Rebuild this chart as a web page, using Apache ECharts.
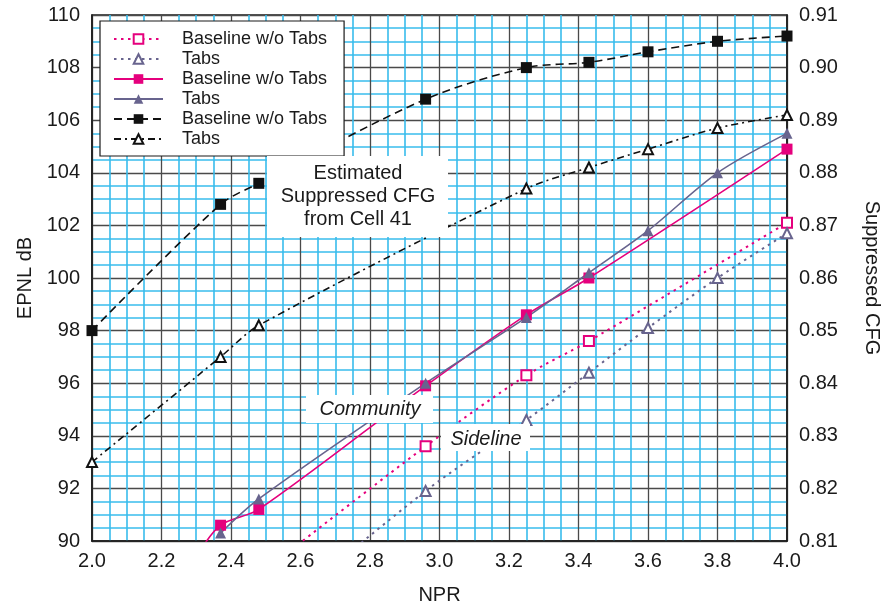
<!DOCTYPE html>
<html>
<head>
<meta charset="utf-8">
<script src="https://cdn.jsdelivr.net/npm/echarts@6/dist/echarts.min.js"></script>
<style>
  html, body { margin: 0; padding: 0; background: #fff; }
  #chart { width: 885px; height: 606px; }
</style>
</head>
<body>
<div id="chart"></div>
<script>
// Axis ranges: [min, max, step]
const nprRange = [2.0, 4.0, 0.2];
const epnlRange = [90, 110, 2];
const cfgRange = [0.81, 0.91, 0.01];

// Sideline EPNL (dB)
const nprSidelineBase = [2.48, 2.96, 3.25, 3.43, 4.00];
const epnlSidelineBase = [88.7, 93.6, 96.3, 97.6, 102.1];
const nprSidelineTabs = [2.48, 2.96, 3.25, 3.43, 3.60, 3.80, 4.00];
const epnlSidelineTabs = [86.7, 91.9, 94.6, 96.4, 98.1, 100.0, 101.7];

// Community EPNL (dB)
const nprCommunityBase = [2.30, 2.37, 2.48, 2.96, 3.25, 3.43, 4.00];
const epnlCommunityBase = [89.4, 90.6, 91.2, 95.9, 98.6, 100.0, 104.9];
const nprCommunityTabs = [2.37, 2.48, 2.96, 3.25, 3.43, 3.60, 3.80, 4.00];
const epnlCommunityTabs = [90.3, 91.6, 96.0, 98.5, 100.2, 101.8, 104.0, 105.5];

// Estimated suppressed CFG from Cell 41
const nprCfgBase = [2.00, 2.37, 2.48, 2.96, 3.25, 3.43, 3.60, 3.80, 4.00];
const cfgBase = [0.850, 0.874, 0.878, 0.894, 0.900, 0.901, 0.903, 0.905, 0.906];
const nprCfgTabs = [2.00, 2.37, 2.48, 3.25, 3.43, 3.60, 3.80, 4.00];
const cfgTabs = [0.825, 0.845, 0.851, 0.877, 0.881, 0.8845, 0.8885, 0.891];

const PINK = '#e5007d';
const SLATE = '#68648e';
const INK = '#111111';
const FONT = '"Liberation Sans", Arial, Helvetica, sans-serif';

const zip = (xs, ys) => xs.map((x, i) => [x, ys[i]]);

function lineSeries(name, xs, ys, opts) {
  return Object.assign({
    name: name,
    type: 'line',
    data: zip(xs, ys),
    smooth: 0.3,
    clip: true,
    symbolKeepAspect: true,
    emphasis: { disabled: true }
  }, opts);
}

const chart = echarts.init(document.getElementById('chart'), null, { renderer: 'canvas' });

chart.setOption({
  animation: false,
  textStyle: { fontFamily: FONT },
  grid: {
    left: 92, right: 98, top: 15, bottom: 65,
    containLabel: false,
    outerBoundsMode: 'none',
    show: true, borderColor: '#1a1a1a', borderWidth: 1.5, backgroundColor: 'transparent'
  },
  xAxis: {
    type: 'value',
    min: nprRange[0], max: nprRange[1], interval: nprRange[2],
    name: 'NPR', nameLocation: 'middle', nameGap: 44,
    nameTextStyle: { fontSize: 20, color: '#1a1a1a', fontFamily: FONT },
    axisLine: { show: true, lineStyle: { color: '#1a1a1a', width: 1.5 } },
    axisTick: { show: false },
    axisLabel: { fontSize: 20, color: '#1a1a1a', margin: 10, formatter: v => v.toFixed(1), fontFamily: FONT },
    splitLine: { show: true, lineStyle: { color: '#4a4a4a', width: 1.3 } },
    minorTick: { show: false, splitNumber: 4 },
    minorSplitLine: { show: true, lineStyle: { color: '#38bcec', width: 1.6 } }
  },
  yAxis: [
    {
      type: 'value',
      min: epnlRange[0], max: epnlRange[1], interval: epnlRange[2],
      name: 'EPNL dB', nameLocation: 'middle', nameGap: 57, nameRotate: 90,
      nameTextStyle: { fontSize: 20, color: '#1a1a1a', fontFamily: FONT },
      axisLine: { show: true, lineStyle: { color: '#1a1a1a', width: 1.5 } },
      axisTick: { show: false },
      axisLabel: { fontSize: 20, color: '#1a1a1a', margin: 12, fontFamily: FONT },
      splitLine: { show: true, lineStyle: { color: '#4a4a4a', width: 1.3 } },
      minorTick: { show: false, splitNumber: 4 },
      minorSplitLine: { show: true, lineStyle: { color: '#38bcec', width: 1.6 } }
    },
    {
      type: 'value',
      position: 'right',
      min: cfgRange[0], max: cfgRange[1], interval: cfgRange[2],
      name: 'Suppressed CFG', nameLocation: 'middle', nameGap: 75, nameRotate: -90,
      nameTextStyle: { fontSize: 20, color: '#1a1a1a', fontFamily: FONT },
      axisLine: { show: true, lineStyle: { color: '#1a1a1a', width: 1.5 } },
      axisTick: { show: false },
      axisLabel: { fontSize: 20, color: '#1a1a1a', margin: 12, formatter: v => v.toFixed(2), fontFamily: FONT },
      splitLine: { show: false }
    }
  ],
  legend: {
    orient: 'vertical',
    left: 100, top: 21,
    padding: [8, 17, 7, 13],
    itemWidth: 49, itemHeight: 12, itemGap: 0,
    backgroundColor: '#ffffff',
    borderColor: '#1a1a1a', borderWidth: 1.2,
    selectedMode: false,
    textStyle: { fontSize: 18, lineHeight: 20, color: '#1a1a1a', padding: [0, 0, 0, 14], fontFamily: FONT },
    formatter: name => name.split('|')[0],
    data: [
      'Baseline w/o Tabs|sideline', 'Tabs|sideline',
      'Baseline w/o Tabs|community', 'Tabs|community',
      'Baseline w/o Tabs|cfg', 'Tabs|cfg'
    ]
  },
  series: [
    lineSeries('Baseline w/o Tabs|sideline', nprSidelineBase, epnlSidelineBase, {
      yAxisIndex: 0, symbol: 'emptyRect', symbolSize: 10,
      itemStyle: { color: PINK },
      lineStyle: { color: PINK, width: 2, type: [2.5, 4.5] }
    }),
    lineSeries('Tabs|sideline', nprSidelineTabs, epnlSidelineTabs, {
      yAxisIndex: 0, symbol: 'emptyTriangle', symbolSize: 10,
      itemStyle: { color: SLATE },
      lineStyle: { color: SLATE, width: 2, type: [2.5, 4.5] }
    }),
    lineSeries('Baseline w/o Tabs|community', nprCommunityBase, epnlCommunityBase, {
      yAxisIndex: 0, symbol: 'rect', symbolSize: 11,
      itemStyle: { color: PINK },
      lineStyle: { color: PINK, width: 1.6 }
    }),
    lineSeries('Tabs|community', nprCommunityTabs, epnlCommunityTabs, {
      yAxisIndex: 0, symbol: 'triangle', symbolSize: 11,
      itemStyle: { color: SLATE },
      lineStyle: { color: SLATE, width: 1.6 }
    }),
    lineSeries('Baseline w/o Tabs|cfg', nprCfgBase, cfgBase, {
      yAxisIndex: 1, symbol: 'rect', symbolSize: 11,
      itemStyle: { color: INK },
      lineStyle: { color: INK, width: 1.6, type: [8, 5] }
    }),
    lineSeries('Tabs|cfg', nprCfgTabs, cfgTabs, {
      yAxisIndex: 1, symbol: 'emptyTriangle', symbolSize: 10,
      itemStyle: { color: INK },
      lineStyle: { color: INK, width: 1.6, type: [7, 4, 2, 4] }
    })
  ],
  graphic: [
    {
      type: 'rect', z: 100,
      shape: { x: 267, y: 156, width: 181, height: 81 },
      style: { fill: '#ffffff' }
    },
    {
      type: 'text', z: 101,
      style: {
        text: 'Estimated\nSuppressed CFG\nfrom Cell 41',
        x: 358, y: 196, align: 'center', verticalAlign: 'middle',
        fontSize: 20, lineHeight: 23, fontFamily: FONT, fill: '#1a1a1a'
      }
    },
    {
      type: 'rect', z: 100,
      shape: { x: 306, y: 395, width: 127, height: 28 },
      style: { fill: '#ffffff' }
    },
    {
      type: 'text', z: 101,
      style: {
        text: 'Community', x: 370, y: 409, align: 'center', verticalAlign: 'middle',
        fontSize: 20, fontStyle: 'italic', fontFamily: FONT, fill: '#1a1a1a'
      }
    },
    {
      type: 'rect', z: 100,
      shape: { x: 441, y: 424, width: 89, height: 27 },
      style: { fill: '#ffffff' }
    },
    {
      type: 'text', z: 101,
      style: {
        text: 'Sideline', x: 486, y: 439, align: 'center', verticalAlign: 'middle',
        fontSize: 20, fontStyle: 'italic', fontFamily: FONT, fill: '#1a1a1a'
      }
    }
  ]
});
</script>
</body>
</html>
